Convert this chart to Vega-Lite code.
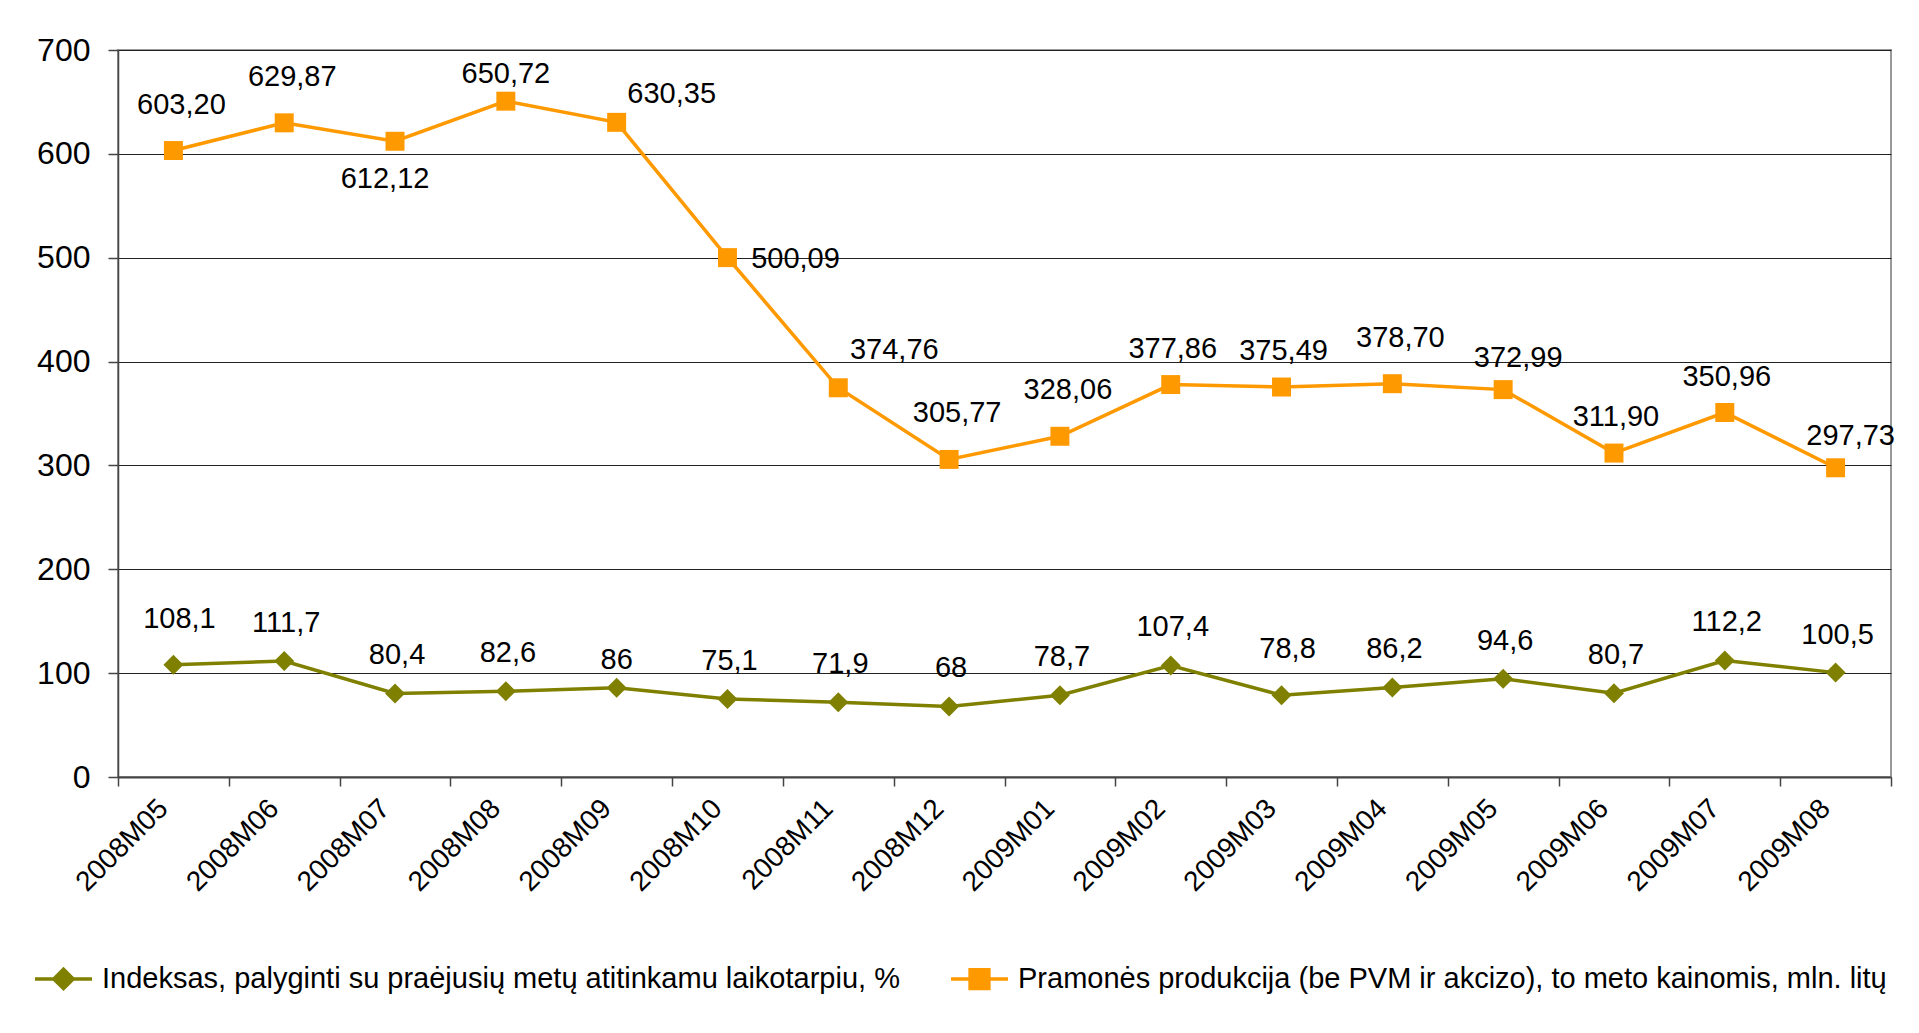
{
  "$schema": "https://vega.github.io/schema/vega-lite/v6.json",
  "width": 1773,
  "height": 727,
  "autosize": {"type": "none"},
  "padding": {"left": 118, "top": 50, "right": 28, "bottom": 256},
  "background": "white",
  "config": {
    "font": "Liberation Sans",
    "locale": {"number": {"decimal": ",", "thousands": " ", "grouping": [3], "currency": ["", ""]}},
    "view": {"stroke": "#999999", "strokeWidth": 2},
    "axis": {"labelFont": "Liberation Sans", "labelColor": "black", "domainColor": "#444444", "tickColor": "#444444", "gridColor": "#222222", "gridWidth": 1, "title": null},
    "axisY": {"labelFontSize": 32, "tickSize": 10, "labelPadding": 18, "domainWidth": 1.5, "tickWidth": 1.5},
    "text": {"font": "Liberation Sans", "color": "black", "fontSize": 29, "baseline": "middle", "align": "center"}
  },
  "data": {
    "values": [
      {"m": "2008M05", "idx": 108.1, "prod": 603.20},
      {"m": "2008M06", "idx": 111.7, "prod": 629.87},
      {"m": "2008M07", "idx": 80.4, "prod": 612.12},
      {"m": "2008M08", "idx": 82.6, "prod": 650.72},
      {"m": "2008M09", "idx": 86, "prod": 630.35},
      {"m": "2008M10", "idx": 75.1, "prod": 500.09},
      {"m": "2008M11", "idx": 71.9, "prod": 374.76},
      {"m": "2008M12", "idx": 68, "prod": 305.77},
      {"m": "2009M01", "idx": 78.7, "prod": 328.06},
      {"m": "2009M02", "idx": 107.4, "prod": 377.86},
      {"m": "2009M03", "idx": 78.8, "prod": 375.49},
      {"m": "2009M04", "idx": 86.2, "prod": 378.70},
      {"m": "2009M05", "idx": 94.6, "prod": 372.99},
      {"m": "2009M06", "idx": 80.7, "prod": 311.90},
      {"m": "2009M07", "idx": 112.2, "prod": 350.96},
      {"m": "2009M08", "idx": 100.5, "prod": 297.73}
    ]
  },
  "encoding": {
    "x": {
      "field": "m", "type": "ordinal", "bandPosition": 0.5,
      "scale": {"type": "band", "paddingInner": 0, "paddingOuter": 0},
      "axis": {"labelAngle": -45, "labelAlign": "right", "labelBaseline": "middle", "labelFontSize": 28, "tickBand": "extent", "tickSize": 9, "tickWidth": 1.5, "domainWidth": 2, "labelPadding": 18, "labelOffset": -10, "grid": false, "title": null}
    }
  },
  "layer": [
    {
      "mark": {"type": "line", "strokeWidth": 3.5},
      "encoding": {
        "y": {"field": "idx", "type": "quantitative", "scale": {"domain": [0, 700], "nice": false}, "axis": {"values": [0, 100, 200, 300, 400, 500, 600, 700], "grid": true, "title": null}},
        "color": {
          "datum": "Indeksas, palyginti su praėjusių metų atitinkamu laikotarpiu, %",
          "scale": {"domain": ["Indeksas, palyginti su praėjusių metų atitinkamu laikotarpiu, %", "Pramonės produkcija (be PVM ir akcizo), to meto kainomis, mln. litų"], "range": ["#808000", "#FF9900"]},
          "legend": {
            "orient": "none", "legendX": -85, "legendY": 898, "direction": "horizontal", "title": null,
            "padding": 0, "symbolSize": 3249, "symbolStrokeWidth": 3.5,
            "labelFont": "Liberation Sans", "labelFontSize": 29, "labelColor": "black", "labelOffset": 8, "columnPadding": 44, "labelLimit": 2000,
            "encode": {"symbols": {"update": {
              "stroke": {"scale": "color", "field": "value"},
              "fill": {"scale": "color", "field": "value"},
              "strokeWidth": {"value": 3.5},
              "opacity": {"value": 1},
              "shape": {"signal": "datum.index == 0 ? 'M-1,0H1M-0.34,0L0,-0.34L0.34,0L0,0.34Z' : 'M-1,0H1M-0.33,-0.33H0.33V0.33H-0.33Z'"}
            }}}
          }
        }
      }
    },
    {
      "mark": {"type": "line", "strokeWidth": 3.5},
      "encoding": {
        "y": {"field": "prod", "type": "quantitative"},
        "color": {"datum": "Pramonės produkcija (be PVM ir akcizo), to meto kainomis, mln. litų"}
      }
    },
    {
      "mark": {"type": "point", "shape": "diamond", "filled": true, "opacity": 1, "size": 400},
      "encoding": {
        "y": {"field": "idx", "type": "quantitative"},
        "color": {"datum": "Indeksas, palyginti su praėjusių metų atitinkamu laikotarpiu, %"}
      }
    },
    {
      "mark": {"type": "point", "shape": "square", "filled": true, "opacity": 1, "size": 360},
      "encoding": {
        "y": {"field": "prod", "type": "quantitative"},
        "color": {"datum": "Pramonės produkcija (be PVM ir akcizo), to meto kainomis, mln. litų"}
      }
    },
    {
      "transform": [{"filter": {"field": "m", "oneOf": ["2008M06", "2008M07", "2008M08", "2008M10", "2008M11", "2008M12", "2009M01", "2009M02", "2009M04", "2009M05", "2009M06", "2009M07", "2009M08"]}}],
      "mark": {"type": "text", "dx": 2, "dy": -38},
      "encoding": {
        "y": {"field": "idx", "type": "quantitative"},
        "text": {"field": "idx", "type": "quantitative", "format": "~f"}
      }
    },
    {
      "transform": [{"filter": {"field": "m", "oneOf": ["2008M05", "2009M03"]}}],
      "mark": {"type": "text", "dx": 6, "dy": -46},
      "encoding": {
        "y": {"field": "idx", "type": "quantitative"},
        "text": {"field": "idx", "type": "quantitative", "format": "~f"}
      }
    },
    {
      "transform": [{"filter": {"field": "m", "oneOf": ["2008M09"]}}],
      "mark": {"type": "text", "dx": 0, "dy": -28},
      "encoding": {
        "y": {"field": "idx", "type": "quantitative"},
        "text": {"field": "idx", "type": "quantitative", "format": "~f"}
      }
    },
    {
      "transform": [{"filter": {"field": "m", "oneOf": ["2008M05", "2008M06", "2008M12", "2009M01", "2009M04"]}}],
      "mark": {"type": "text", "dx": 8, "dy": -46},
      "encoding": {
        "y": {"field": "prod", "type": "quantitative"},
        "text": {"field": "prod", "type": "quantitative", "format": ".2f"}
      }
    },
    {
      "transform": [{"filter": {"field": "m", "oneOf": ["2009M02", "2009M03", "2009M06", "2009M07"]}}],
      "mark": {"type": "text", "dx": 2, "dy": -36},
      "encoding": {
        "y": {"field": "prod", "type": "quantitative"},
        "text": {"field": "prod", "type": "quantitative", "format": ".2f"}
      }
    },
    {
      "transform": [{"filter": {"field": "m", "oneOf": ["2009M05", "2009M08"]}}],
      "mark": {"type": "text", "dx": 15, "dy": -32},
      "encoding": {
        "y": {"field": "prod", "type": "quantitative"},
        "text": {"field": "prod", "type": "quantitative", "format": ".2f"}
      }
    },
    {
      "transform": [{"filter": {"field": "m", "oneOf": ["2008M07"]}}],
      "mark": {"type": "text", "dx": -10, "dy": 38},
      "encoding": {
        "y": {"field": "prod", "type": "quantitative"},
        "text": {"field": "prod", "type": "quantitative", "format": ".2f"}
      }
    },
    {
      "transform": [{"filter": {"field": "m", "oneOf": ["2008M08"]}}],
      "mark": {"type": "text", "dx": 0, "dy": -27},
      "encoding": {
        "y": {"field": "prod", "type": "quantitative"},
        "text": {"field": "prod", "type": "quantitative", "format": ".2f"}
      }
    },
    {
      "transform": [{"filter": {"field": "m", "oneOf": ["2008M09"]}}],
      "mark": {"type": "text", "dx": 55, "dy": -28},
      "encoding": {
        "y": {"field": "prod", "type": "quantitative"},
        "text": {"field": "prod", "type": "quantitative", "format": ".2f"}
      }
    },
    {
      "transform": [{"filter": {"field": "m", "oneOf": ["2008M10"]}}],
      "mark": {"type": "text", "dx": 68, "dy": 1},
      "encoding": {
        "y": {"field": "prod", "type": "quantitative"},
        "text": {"field": "prod", "type": "quantitative", "format": ".2f"}
      }
    },
    {
      "transform": [{"filter": {"field": "m", "oneOf": ["2008M11"]}}],
      "mark": {"type": "text", "dx": 56, "dy": -38},
      "encoding": {
        "y": {"field": "prod", "type": "quantitative"},
        "text": {"field": "prod", "type": "quantitative", "format": ".2f"}
      }
    }
  ]
}
